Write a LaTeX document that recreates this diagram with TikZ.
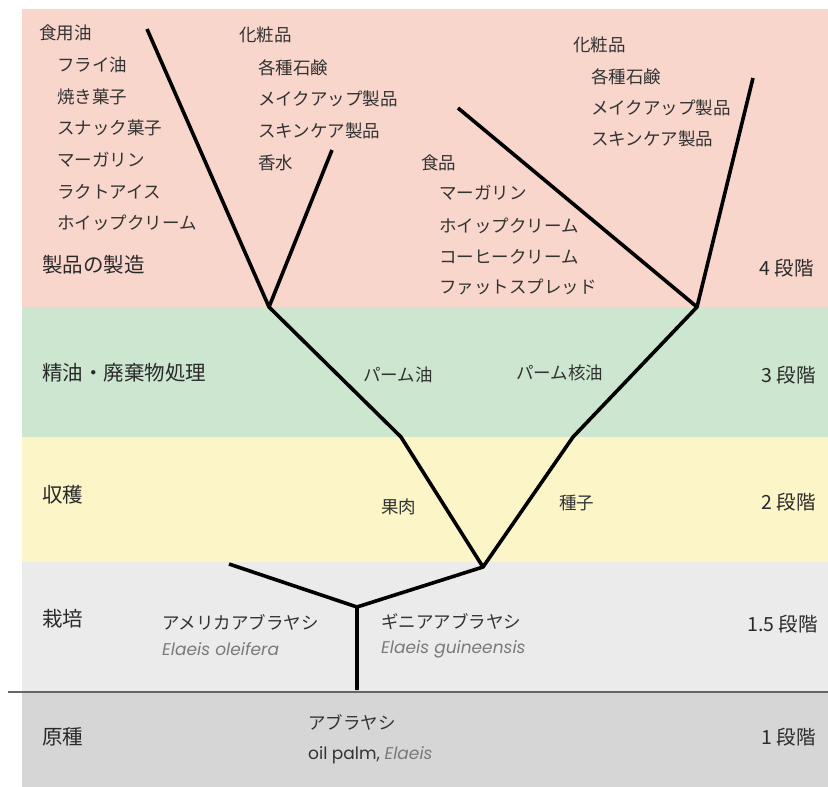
\documentclass[tikz,border=0pt]{standalone}
\usepackage{fontspec}
\setmainfont{Noto Sans CJK JP}
\newfontfamily\latinfont{Poppins}
\definecolor{bandpink}{HTML}{F8D6CC}
\definecolor{bandgreen}{HTML}{CDE6D0}
\definecolor{bandyellow}{HTML}{FBF5C7}
\definecolor{bandlight}{HTML}{EBEBEB}
\definecolor{banddark}{HTML}{D6D6D6}
\definecolor{txtgray}{HTML}{333333}
\definecolor{txtdark}{HTML}{2A2A2A}
\definecolor{sciname}{HTML}{7A7A7A}
\begin{document}
\begin{tikzpicture}[x=1pt,y=-1pt,
  item/.style={anchor=west, inner sep=0pt, font=\fontsize{17.5}{17.5}\selectfont, text=txtgray},
  cat/.style={anchor=west, inner sep=0pt, font=\fontsize{20.5}{20.5}\selectfont, text=txtdark},
  stage/.style={anchor=east, inner sep=0pt, font=\fontsize{19.5}{19.5}\selectfont, text=txtdark},
  sci/.style={anchor=west, inner sep=0pt, font=\latinfont\itshape\fontsize{17}{17}\selectfont, text=sciname},
  branch/.style={line width=3.6pt, line join=round, line cap=butt, black}
]
\useasboundingbox (0,0) rectangle (828,787);
\fill[white] (0,0) rectangle (828,787);
% bands
\fill[bandpink] (22,9) rectangle (828,307);
\fill[bandgreen] (22,307) rectangle (828,437);
\fill[bandyellow] (22,437) rectangle (828,562);
\fill[bandlight] (22,562) rectangle (828,692);
\fill[banddark] (22,692) rectangle (828,787);
\draw[line width=1.5pt, color=black!60] (8,692) -- (828,692);

% tree coordinates
\coordinate (root) at (357,690);
\coordinate (j1) at (357,607);
\coordinate (amer) at (229,564);
\coordinate (j2) at (483,567);
\coordinate (k1) at (401,437);
\coordinate (n1) at (269,307);
\coordinate (k2) at (573,437);
\coordinate (n2) at (697,307);
\coordinate (t1) at (147,29);
\coordinate (t2) at (332,150);
\coordinate (t3) at (458,108);
\coordinate (t4) at (753,78);

\draw[branch] (root) -- (j1) -- (amer);
\draw[branch] (j1) -- (j2) -- (k1) -- (n1) -- (t1);
\draw[branch] (n1) -- (t2);
\draw[branch] (j2) -- (k2) -- (n2) -- (t3);
\draw[branch] (n2) -- (t4);

% stage 4 texts
\node[item] (oil) at (39,33) {食用油};
\node[item] (fry) at (57,65) {フライ油};
\node[item] (bake) at (57,97) {焼き菓子};
\node[item] (snack) at (57,128) {スナック菓子};
\node[item] (marg1) at (57,160) {マーガリン};
\node[item] (lacto) at (57,192) {ラクトアイス};
\node[item] (whip1) at (57,223) {ホイップクリーム};
\node[cat] (manuf) at (42,265) {製品の製造};

\node[item] (cos1) at (239,35) {化粧品};
\node[item] (soap1) at (258,68) {各種石鹸};
\node[item] (make1) at (258,99) {メイクアップ製品};
\node[item] (skin1) at (258,131) {スキンケア製品};
\node[item] (perf) at (258,163) {香水};

\node[item] (cos2) at (573,45) {化粧品};
\node[item] (soap2) at (591,77) {各種石鹸};
\node[item] (make2) at (591,108) {メイクアップ製品};
\node[item] (skin2) at (591,139) {スキンケア製品};

\node[item] (food) at (421,163) {食品};
\node[item] (marg2) at (439,193) {マーガリン};
\node[item] (whip2) at (439,226) {ホイップクリーム};
\node[item] (coffee) at (439,257) {コーヒークリーム};
\node[item] (fat) at (439,287) {ファットスプレッド};
\node[stage] (s4) at (814,268) {4 段階};

% stage 3
\node[cat] (refine) at (42,373) {精油・廃棄物処理};
\node[item] (palmoil) at (363,375) {パーム油};
\node[item] (kernel) at (516,373) {パーム核油};
\node[stage] (s3) at (816,375) {3 段階};

% stage 2
\node[cat] (harvest) at (42,495) {収穫};
\node[item] (flesh) at (381,507) {果肉};
\node[item] (seed) at (559,503) {種子};
\node[stage] (s2) at (816,502) {2 段階};

% stage 1.5
\node[cat] (cultiv) at (42,619) {栽培};
\node[item] (americ) at (162,622) {アメリカアブラヤシ};
\node[sci] (oleif) at (162,649) {Elaeis oleifera};
\node[item] (guinea) at (381,622) {ギニアアブラヤシ};
\node[sci] (guin) at (381,649) {Elaeis guineensis};
\node[stage] (s15) at (818,624) {1.5 段階};

% stage 1
\node[cat] (orig) at (42,737) {原種};
\node[item] (abura) at (308,722) {アブラヤシ};
\node[anchor=west, inner sep=0pt, text=txtgray, font=\latinfont\fontsize{17}{17}\selectfont] (oilpalm) at (308,755) {oil palm, {\color{sciname}\itshape Elaeis}};
\node[stage] (s1) at (816,737) {1 段階};
\end{tikzpicture}
\end{document}
